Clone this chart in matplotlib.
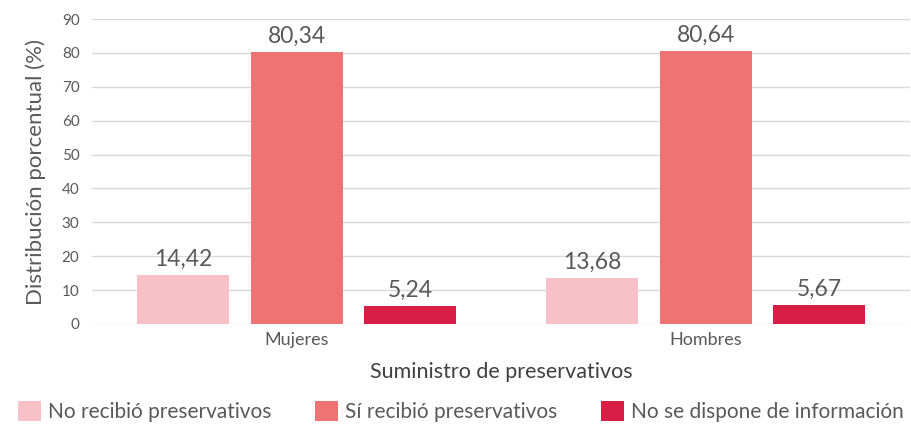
import numpy as np
import matplotlib
matplotlib.use("Agg")
import matplotlib.pyplot as plt

plt.rcParams['font.family'] = ['Lato', 'DejaVu Sans']

# datos
grupos = ["Mujeres", "Hombres"]
series = ["No recibió preservativos", "Sí recibió preservativos", "No se dispone de información"]
no_recibio = [14.42, 13.68]
si_recibio = [80.34, 80.64]
sin_info = [5.24, 5.67]
colores = ["#F8C1C8", "#F07373", "#D81E45"]

textColor = "#595959"
fig = plt.figure(figsize=(9.11, 4.24), dpi=100)
ax = fig.add_axes([0.101, 0.236, 0.898, 0.719])

x = np.arange(len(grupos))
width = 0.225
step = 0.278
valores = [no_recibio, si_recibio, sin_info]
for i in range(3):
    bars = ax.bar(x + (i - 1) * step, valores[i], width, color=colores[i], label=series[i], zorder=3)
    for b, v in zip(bars, valores[i]):
        ax.text(b.get_x() + b.get_width() / 2, v + 1.5, ("%.2f" % v).replace(".", ","),
                ha="center", va="bottom", fontsize=16.5, color=textColor)

ax.set_xlim(-0.5, 1.5)
ax.set_ylim(0, 90)
ax.set_yticks(range(0, 91, 10))
ax.grid(axis="y", color="#D9D9D9", linewidth=1, zorder=0)
for s in ax.spines.values():
    s.set_visible(False)
ax.tick_params(axis="both", length=0, colors=textColor, labelsize=11)
ax.tick_params(axis="y", pad=9)
ax.tick_params(axis="x", labelsize=13, pad=6)
ax.set_xticks(x)
ax.set_xticklabels(grupos)
ax.set_xlabel("Suministro de preservativos", fontsize=15.5, color="#404040", labelpad=10)
ax.set_ylabel("Distribución porcentual (%)", fontsize=16, color=textColor, labelpad=11)

fig.legend(loc="center", bbox_to_anchor=(0.506, 0.03), ncol=3, frameon=False,
           fontsize=15, handlelength=1.1, handleheight=1.1, columnspacing=2.1,
           handletextpad=0.35, labelcolor=textColor, borderpad=0, borderaxespad=0)

plt.savefig("out.png", dpi=100)
plt.close()
